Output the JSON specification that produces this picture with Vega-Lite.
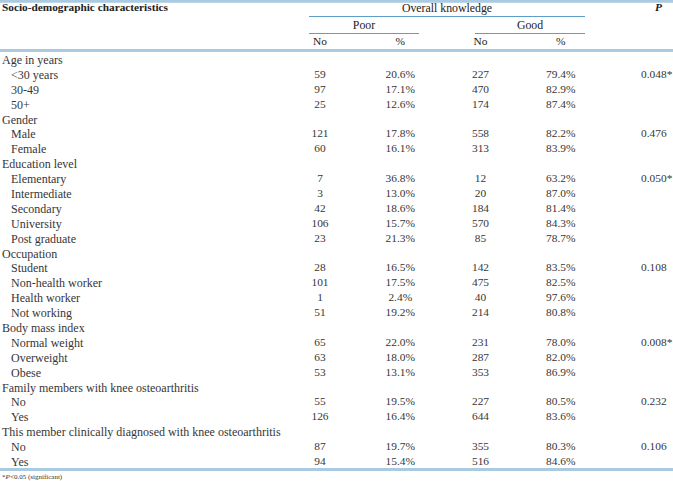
{
  "$schema": "https://vega.github.io/schema/vega-lite/v6.json",
  "width": 673,
  "height": 481,
  "autosize": {"type": "none"},
  "padding": 0,
  "background": "white",
  "config": {
    "view": {"stroke": null},
    "text": {"font": "Liberation Serif", "fontSize": 11.4, "color": "#363636", "baseline": "middle"}
  },
  "datasets": {
    "body": [
      {"row": 0, "label": "Age in years", "level": "heading"},
      {"row": 1, "label": "<30 years", "level": "item", "poor_no": "59", "poor_pct": "20.6%", "good_no": "227", "good_pct": "79.4%", "p": "0.048*"},
      {"row": 2, "label": "30-49", "level": "item", "poor_no": "97", "poor_pct": "17.1%", "good_no": "470", "good_pct": "82.9%"},
      {"row": 3, "label": "50+", "level": "item", "poor_no": "25", "poor_pct": "12.6%", "good_no": "174", "good_pct": "87.4%"},
      {"row": 4, "label": "Gender", "level": "heading"},
      {"row": 5, "label": "Male", "level": "item", "poor_no": "121", "poor_pct": "17.8%", "good_no": "558", "good_pct": "82.2%", "p": "0.476"},
      {"row": 6, "label": "Female", "level": "item", "poor_no": "60", "poor_pct": "16.1%", "good_no": "313", "good_pct": "83.9%"},
      {"row": 7, "label": "Education level", "level": "heading"},
      {"row": 8, "label": "Elementary", "level": "item", "poor_no": "7", "poor_pct": "36.8%", "good_no": "12", "good_pct": "63.2%", "p": "0.050*"},
      {"row": 9, "label": "Intermediate", "level": "item", "poor_no": "3", "poor_pct": "13.0%", "good_no": "20", "good_pct": "87.0%"},
      {"row": 10, "label": "Secondary", "level": "item", "poor_no": "42", "poor_pct": "18.6%", "good_no": "184", "good_pct": "81.4%"},
      {"row": 11, "label": "University", "level": "item", "poor_no": "106", "poor_pct": "15.7%", "good_no": "570", "good_pct": "84.3%"},
      {"row": 12, "label": "Post graduate", "level": "item", "poor_no": "23", "poor_pct": "21.3%", "good_no": "85", "good_pct": "78.7%"},
      {"row": 13, "label": "Occupation", "level": "heading"},
      {"row": 14, "label": "Student", "level": "item", "poor_no": "28", "poor_pct": "16.5%", "good_no": "142", "good_pct": "83.5%", "p": "0.108"},
      {"row": 15, "label": "Non-health worker", "level": "item", "poor_no": "101", "poor_pct": "17.5%", "good_no": "475", "good_pct": "82.5%"},
      {"row": 16, "label": "Health worker", "level": "item", "poor_no": "1", "poor_pct": "2.4%", "good_no": "40", "good_pct": "97.6%"},
      {"row": 17, "label": "Not working", "level": "item", "poor_no": "51", "poor_pct": "19.2%", "good_no": "214", "good_pct": "80.8%"},
      {"row": 18, "label": "Body mass index", "level": "heading"},
      {"row": 19, "label": "Normal weight", "level": "item", "poor_no": "65", "poor_pct": "22.0%", "good_no": "231", "good_pct": "78.0%", "p": "0.008*"},
      {"row": 20, "label": "Overweight", "level": "item", "poor_no": "63", "poor_pct": "18.0%", "good_no": "287", "good_pct": "82.0%"},
      {"row": 21, "label": "Obese", "level": "item", "poor_no": "53", "poor_pct": "13.1%", "good_no": "353", "good_pct": "86.9%"},
      {"row": 22, "label": "Family members with knee osteoarthritis", "level": "heading"},
      {"row": 23, "label": "No", "level": "item", "poor_no": "55", "poor_pct": "19.5%", "good_no": "227", "good_pct": "80.5%", "p": "0.232"},
      {"row": 24, "label": "Yes", "level": "item", "poor_no": "126", "poor_pct": "16.4%", "good_no": "644", "good_pct": "83.6%"},
      {"row": 25, "label": "This member clinically diagnosed with knee osteoarthritis", "level": "heading"},
      {"row": 26, "label": "No", "level": "item", "poor_no": "87", "poor_pct": "19.7%", "good_no": "355", "good_pct": "80.3%", "p": "0.106"},
      {"row": 27, "label": "Yes", "level": "item", "poor_no": "94", "poor_pct": "15.4%", "good_no": "516", "good_pct": "84.6%"}
    ],
    "header": [
      {"kind": "group", "hrow": 0, "grp": "Overall", "text": "Overall knowledge"},
      {"kind": "group", "hrow": 1, "grp": "Poor", "text": "Poor"},
      {"kind": "group", "hrow": 1, "grp": "Good", "text": "Good"},
      {"kind": "no", "hrow": 2, "col": "poor_no", "text": "No"},
      {"kind": "pct", "hrow": 2, "col": "poor_pct", "text": "%"},
      {"kind": "no", "hrow": 2, "col": "good_no", "text": "No"},
      {"kind": "pct", "hrow": 2, "col": "good_pct", "text": "%"},
      {"kind": "title", "hrow": 0, "level": "heading", "text": "Socio-demographic characteristics"},
      {"kind": "ptitle", "hrow": 0, "col": "p", "text": "P"}
    ],
    "thick": [{"hl": -0.4}, {"hl": 2.5}],
    "bottom": [{"row": 27.5}],
    "thin": [
      {"hl": 0.5, "from": "Poor", "to": "Good"},
      {"hl": 1.5, "from": "Poor", "to": "Poor"},
      {"hl": 1.5, "from": "Good", "to": "Good"}
    ],
    "note": [{"row": 28, "level": "heading"}]
  },
  "layer": [
    {
      "data": {"name": "thick"},
      "mark": {"type": "rule", "strokeWidth": 3, "color": "#a9cae0"},
      "encoding": {
        "y": {"field": "hl", "type": "quantitative", "axis": null, "scale": {"domain": [0, 2], "range": [8, 42], "nice": false, "zero": false}}
      }
    },
    {
      "data": {"name": "bottom"},
      "mark": {"type": "rule", "strokeWidth": 3, "color": "#a9cae0"},
      "encoding": {
        "y": {"field": "row", "type": "quantitative", "axis": null, "scale": {"domain": [0, 27], "range": [60, 462], "nice": false, "zero": false}}
      }
    },
    {
      "data": {"name": "thin"},
      "mark": {"type": "rule", "strokeWidth": 1.2, "color": "#5e9fc9", "xOffset": -55, "x2Offset": 55},
      "encoding": {
        "x": {"field": "from", "type": "nominal", "axis": null, "scale": {"type": "point", "domain": ["Poor", "Overall", "Good"], "range": [364, 530], "padding": 0}},
        "x2": {"field": "to"},
        "y": {"field": "hl", "type": "quantitative", "axis": null, "scale": {"domain": [0, 2], "range": [8, 42], "nice": false, "zero": false}}
      }
    },
    {
      "data": {"name": "header"},
      "transform": [{"filter": "datum.kind == 'group'"}],
      "mark": {"type": "text", "align": "center", "color": "#222222", "fontSize": 11.8},
      "encoding": {
        "x": {"field": "grp", "type": "nominal", "axis": null, "scale": {"type": "point", "domain": ["Poor", "Overall", "Good"], "range": [364, 530], "padding": 0}},
        "y": {"field": "hrow", "type": "quantitative", "axis": null, "scale": {"domain": [0, 2], "range": [8, 42], "nice": false, "zero": false}},
        "text": {"field": "text"}
      }
    },
    {
      "data": {"name": "header"},
      "transform": [{"filter": "datum.kind == 'no' || datum.kind == 'pct'"}],
      "mark": {"type": "text", "align": "center", "color": "#222222"},
      "encoding": {
        "x": {"field": "col", "type": "nominal", "axis": null, "scale": {"type": "point", "domain": ["poor_no", "poor_pct", "good_no", "good_pct", "p"], "range": [320, 641], "padding": 0}},
        "y": {"field": "hrow", "type": "quantitative", "axis": null, "scale": {"domain": [0, 2], "range": [8, 42], "nice": false, "zero": false}},
        "text": {"field": "text"},
        "fontWeight": {"field": "kind", "type": "nominal", "scale": {"domain": ["no", "pct"], "range": ["bold", "normal"]}, "legend": null}
      }
    },
    {
      "data": {"name": "header"},
      "transform": [{"filter": "datum.kind == 'title'"}],
      "mark": {"type": "text", "align": "left", "fontWeight": "bold", "color": "#222222", "fontSize": 11.3},
      "encoding": {
        "x": {"field": "level", "type": "nominal", "axis": null, "scale": {"type": "point", "domain": ["heading", "item"], "range": [2, 11], "padding": 0}},
        "y": {"field": "hrow", "type": "quantitative", "axis": null, "scale": {"domain": [0, 2], "range": [8, 42], "nice": false, "zero": false}},
        "text": {"field": "text"}
      }
    },
    {
      "data": {"name": "header"},
      "transform": [{"filter": "datum.kind == 'ptitle'"}],
      "mark": {"type": "text", "align": "left", "fontWeight": "bold", "fontStyle": "italic", "color": "#222222", "dx": 14},
      "encoding": {
        "x": {"field": "col", "type": "nominal", "axis": null, "scale": {"type": "point", "domain": ["poor_no", "poor_pct", "good_no", "good_pct", "p"], "range": [320, 641], "padding": 0}},
        "y": {"field": "hrow", "type": "quantitative", "axis": null, "scale": {"domain": [0, 2], "range": [8, 42], "nice": false, "zero": false}},
        "text": {"field": "text"}
      }
    },
    {
      "data": {"name": "body"},
      "mark": {"type": "text", "align": "left", "fontSize": 12},
      "encoding": {
        "x": {"field": "level", "type": "nominal", "axis": null, "scale": {"type": "point", "domain": ["heading", "item"], "range": [2, 11], "padding": 0}},
        "y": {"field": "row", "type": "quantitative", "axis": null, "scale": {"domain": [0, 27], "range": [60, 462], "nice": false, "zero": false}},
        "text": {"field": "label"}
      }
    },
    {
      "data": {"name": "body"},
      "transform": [
        {"fold": ["poor_no", "poor_pct", "good_no", "good_pct"], "as": ["col", "val"]},
        {"filter": "isValid(datum.val)"}
      ],
      "mark": {"type": "text", "align": "center"},
      "encoding": {
        "x": {"field": "col", "type": "nominal", "axis": null, "scale": {"type": "point", "domain": ["poor_no", "poor_pct", "good_no", "good_pct", "p"], "range": [320, 641], "padding": 0}},
        "y": {"field": "row", "type": "quantitative", "axis": null, "scale": {"domain": [0, 27], "range": [60, 462], "nice": false, "zero": false}},
        "text": {"field": "val"}
      }
    },
    {
      "data": {"name": "body"},
      "transform": [{"filter": "isValid(datum.p)"}],
      "mark": {"type": "text", "align": "left"},
      "encoding": {
        "x": {"datum": "p", "type": "nominal", "axis": null, "scale": {"type": "point", "domain": ["poor_no", "poor_pct", "good_no", "good_pct", "p"], "range": [320, 641], "padding": 0}},
        "y": {"field": "row", "type": "quantitative", "axis": null, "scale": {"domain": [0, 27], "range": [60, 462], "nice": false, "zero": false}},
        "text": {"field": "p"}
      }
    },
    {
      "data": {"name": "note"},
      "mark": {"type": "text", "align": "left", "fontSize": 7, "text": "*"},
      "encoding": {
        "x": {"field": "level", "type": "nominal", "axis": null, "scale": {"type": "point", "domain": ["heading", "item"], "range": [2, 11], "padding": 0}},
        "y": {"field": "row", "type": "quantitative", "axis": null, "scale": {"domain": [0, 27], "range": [60, 462], "nice": false, "zero": false}}
      }
    },
    {
      "data": {"name": "note"},
      "mark": {"type": "text", "align": "left", "fontSize": 7, "fontStyle": "italic", "text": "P", "dx": 3.5},
      "encoding": {
        "x": {"field": "level", "type": "nominal", "axis": null, "scale": {"type": "point", "domain": ["heading", "item"], "range": [2, 11], "padding": 0}},
        "y": {"field": "row", "type": "quantitative", "axis": null, "scale": {"domain": [0, 27], "range": [60, 462], "nice": false, "zero": false}}
      }
    },
    {
      "data": {"name": "note"},
      "mark": {"type": "text", "align": "left", "fontSize": 7, "text": "<0.05 (significant)", "dx": 8},
      "encoding": {
        "x": {"field": "level", "type": "nominal", "axis": null, "scale": {"type": "point", "domain": ["heading", "item"], "range": [2, 11], "padding": 0}},
        "y": {"field": "row", "type": "quantitative", "axis": null, "scale": {"domain": [0, 27], "range": [60, 462], "nice": false, "zero": false}}
      }
    }
  ],
  "resolve": {"scale": {"x": "independent", "y": "independent", "fontWeight": "independent"}}
}
